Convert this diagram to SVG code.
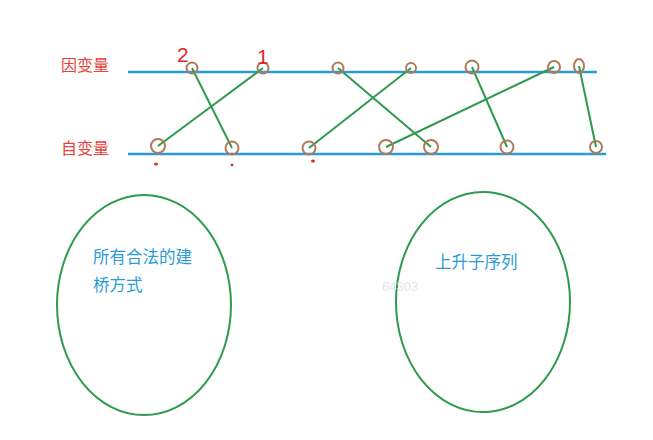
<svg xmlns="http://www.w3.org/2000/svg" width="653" height="440" viewBox="0 0 653 440">
<style>
.axis{stroke:#2a9bd6;stroke-width:2.5;fill:none}
.edge{stroke:#2e9a4e;stroke-width:2;fill:none}
.pt{stroke:#b07a58;stroke-width:2;fill:none}
.lbl{font-family:"Noto Sans CJK SC","Noto Sans",sans-serif;font-size:16px;fill:#e8413c}
.blue{font-family:"Noto Sans CJK SC","Noto Sans",sans-serif;font-size:16.5px;fill:#2a9bd6}
.hand{font-family:"Liberation Sans",sans-serif;font-size:21px;fill:#e02a2a}
.set{stroke:#2e9a4e;stroke-width:2;fill:none}
.dot{fill:#e02a2a}
</style>
<rect width="653" height="440" fill="#ffffff"/>
<g id="axes">
<line class="axis" x1="128" y1="72" x2="597" y2="72"/>
<line class="axis" x1="128" y1="154" x2="606" y2="154"/>
<text class="lbl" x="61" y="71">因变量</text>
<text class="lbl" x="61" y="154">自变量</text>
</g>
<g id="connectors">
<line class="edge" x1="192" y1="68" x2="232" y2="148"/>
<line class="edge" x1="263" y1="68" x2="158" y2="146"/>
<line class="edge" x1="338" y1="68" x2="431" y2="147"/>
<line class="edge" x1="411" y1="68" x2="309" y2="148"/>
<line class="edge" x1="472" y1="67" x2="507" y2="147"/>
<line class="edge" x1="554" y1="67" x2="386" y2="147"/>
<line class="edge" x1="579" y1="66" x2="596" y2="147"/>
</g>
<g id="top-points">
<circle class="pt" cx="192" cy="68" r="5.5"/>
<circle class="pt" cx="263" cy="68" r="5.5"/>
<circle class="pt" cx="338" cy="68" r="5.5"/>
<circle class="pt" cx="411" cy="68" r="5"/>
<circle class="pt" cx="472" cy="67" r="6.5"/>
<circle class="pt" cx="554" cy="67" r="6"/>
<ellipse class="pt" cx="579" cy="66" rx="5" ry="7"/>
</g>
<g id="bottom-points">
<circle class="pt" cx="158" cy="146" r="7"/>
<circle class="pt" cx="232" cy="148" r="6.5"/>
<circle class="pt" cx="309" cy="148" r="6.5"/>
<circle class="pt" cx="386" cy="147" r="7"/>
<circle class="pt" cx="431" cy="147" r="7"/>
<circle class="pt" cx="507" cy="147" r="6.5"/>
<circle class="pt" cx="596" cy="147" r="6"/>
</g>
<g id="marks">
<text class="hand" x="177" y="62">2</text>
<text class="hand" x="257" y="64">1</text>
<ellipse class="dot" cx="156" cy="164" rx="2" ry="1.5"/>
<ellipse class="dot" cx="232" cy="165" rx="1.5" ry="1.2"/>
<ellipse class="dot" cx="313" cy="161" rx="2" ry="1.5"/>
</g>
<g id="set-bridges">
<ellipse class="set" cx="144" cy="305" rx="87" ry="110"/>
<text class="blue" x="93" y="263">所有合法的建</text>
<text class="blue" x="93" y="291">桥方式</text>
</g>
<g id="set-lis">
<ellipse class="set" cx="483" cy="302" rx="87" ry="110"/>
<text class="blue" x="435" y="268">上升子序列</text>
</g>
<text x="382" y="291" font-family="Liberation Sans,sans-serif" font-size="13" fill="#e6e6e6">64303</text>
</svg>
